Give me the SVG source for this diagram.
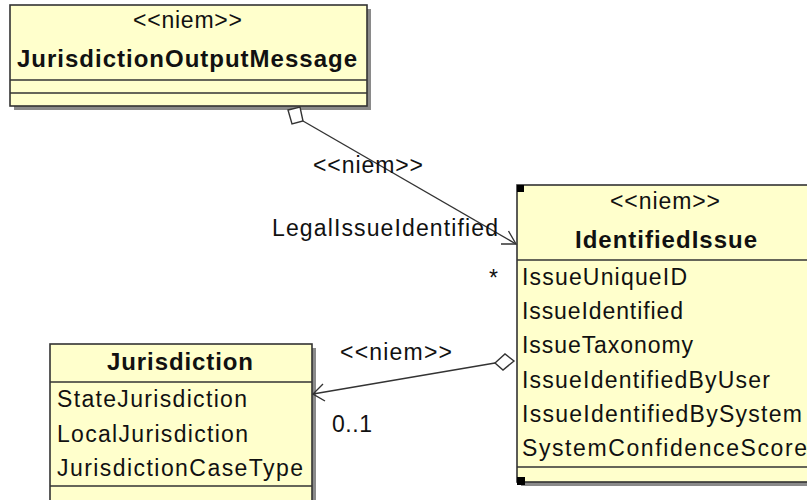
<svg xmlns="http://www.w3.org/2000/svg" width="807" height="500" viewBox="0 0 807 500">
<style>
.box{fill:#FFFFCC;stroke:#333;stroke-width:1.6}
.shadow{fill:#8a8a8a}
.div{stroke:#333;stroke-width:1.5}
.t{font-family:"Liberation Sans",Arial,sans-serif;font-size:23px;fill:#111}
.b{font-family:"Liberation Sans",Arial,sans-serif;font-size:24px;font-weight:bold;fill:#111}
.line{stroke:#333;stroke-width:1.4;fill:none}
.dia{fill:#fff;stroke:#333;stroke-width:1.4}
</style>
<rect width="807" height="500" fill="#fff"/>
<g id="JurisdictionOutputMessage">
<rect class="shadow" x="14" y="9" width="357" height="101"/>
<rect class="box" x="10" y="5" width="357" height="101"/>
<line class="div" x1="10" y1="80" x2="367" y2="80"/>
<line class="div" x1="10" y1="93" x2="367" y2="93"/>
<text class="t" x="133" y="28" textLength="109" lengthAdjust="spacing">&lt;&lt;niem&gt;&gt;</text>
<text class="b" x="17" y="67" textLength="340" lengthAdjust="spacing">JurisdictionOutputMessage</text>
</g>
<g id="IdentifiedIssue">
<rect class="shadow" x="521" y="189" width="300" height="297"/>
<rect class="box" x="517" y="185" width="300" height="297"/>
<line class="div" x1="517" y1="260" x2="817" y2="260"/>
<line class="div" x1="517" y1="467" x2="817" y2="467"/>
<rect x="517" y="185" width="7" height="7" fill="#000"/>
<rect x="517" y="477" width="8" height="8" fill="#000"/>
<text class="t" x="610" y="209" textLength="110" lengthAdjust="spacing">&lt;&lt;niem&gt;&gt;</text>
<text class="b" x="575" y="248" textLength="182" lengthAdjust="spacing">IdentifiedIssue</text>
<text class="t" x="522" y="285" textLength="165" lengthAdjust="spacing">IssueUniqueID</text>
<text class="t" x="522" y="319" textLength="161" lengthAdjust="spacing">IssueIdentified</text>
<text class="t" x="522" y="353" textLength="171" lengthAdjust="spacing">IssueTaxonomy</text>
<text class="t" x="522" y="387.5" textLength="248" lengthAdjust="spacing">IssueIdentifiedByUser</text>
<text class="t" x="522" y="421.5" textLength="280" lengthAdjust="spacing">IssueIdentifiedBySystem</text>
<text class="t" x="522" y="455.5" textLength="285" lengthAdjust="spacing">SystemConfidenceScore</text>
</g>
<g id="Jurisdiction">
<rect class="shadow" x="54" y="348" width="262" height="170"/>
<rect class="box" x="50" y="344" width="262" height="170"/>
<line class="div" x1="50" y1="382" x2="312" y2="382"/>
<line class="div" x1="50" y1="486" x2="312" y2="486"/>
<text class="b" x="107" y="370" textLength="146" lengthAdjust="spacing">Jurisdiction</text>
<text class="t" x="57" y="407" textLength="190" lengthAdjust="spacing">StateJurisdiction</text>
<text class="t" x="57" y="442" textLength="191" lengthAdjust="spacing">LocalJurisdiction</text>
<text class="t" x="57" y="476" textLength="246" lengthAdjust="spacing">JurisdictionCaseType</text>
</g>
<g id="connectors">
<line class="line" x1="303" y1="121" x2="516" y2="244"/>
<polyline class="line" points="501,244 516,244 508.5,231"/>
<polygon class="dia" points="288,110 300,107 303,121 292,124"/>
<text class="t" x="313" y="173" textLength="110" lengthAdjust="spacing">&lt;&lt;niem&gt;&gt;</text>
<text class="t" x="272" y="236" textLength="226" lengthAdjust="spacing">LegalIssueIdentified</text>
<text class="t" x="489" y="286">*</text>
<line class="line" x1="495" y1="363" x2="313" y2="394"/>
<polyline class="line" points="323,384 313,394 325,401"/>
<polygon class="dia" points="495,363 505,354 514,361 503,370"/>
<text class="t" x="340" y="360" textLength="112" lengthAdjust="spacing">&lt;&lt;niem&gt;&gt;</text>
<text class="t" x="332" y="432" textLength="40" lengthAdjust="spacing">0..1</text>
</g>
</svg>
